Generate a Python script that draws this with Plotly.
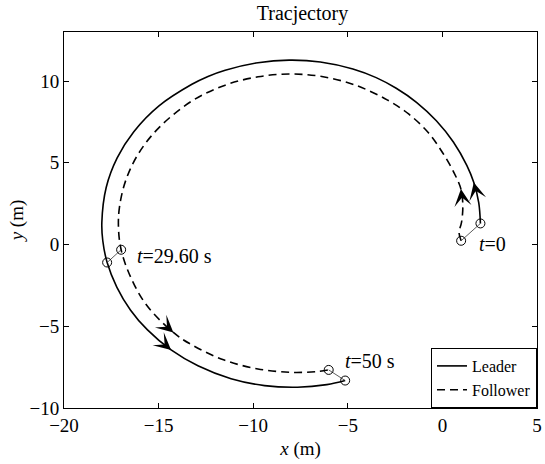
import plotly.graph_objects as go

# Leader trajectory (m), ordered in time from t=0 to t=50 s
leader_x = [2.01, 1.92, 1.66, 1.29, 0.58, -0.32, -1.37, -2.44, -3.50, -4.73, -6.45,
            -8.10, -9.75, -11.48, -12.39, -13.24, -14.98, -16.31, -17.19, -17.77,
            -18.00, -17.95, -17.72, -17.21, -16.49, -15.60, -14.34, -12.92, -11.17,
            -9.40, -7.66, -6.11, -5.14]
leader_y = [1.29, 2.57, 3.79, 4.84, 6.27, 7.57, 8.70, 9.56, 10.21, 10.74, 11.17,
            11.28, 11.12, 10.66, 10.28, 9.80, 8.48, 6.90, 5.30, 3.49,
            1.35, 0.23, -1.10, -2.60, -4.00, -5.21, -6.45, -7.42, -8.21,
            -8.63, -8.73, -8.57, -8.32]

# Follower trajectory (m)
follower_x = [0.99, 0.88, 1.01, 1.08, 0.98, 0.61, 0.02, -0.75, -1.77, -2.92, -4.67,
              -6.44, -8.10, -9.74, -11.48, -13.24, -14.98, -16.07, -16.74, -17.07,
              -17.12, -16.98, -16.55, -15.68, -14.22, -13.27, -11.53, -9.75, -8.01,
              -6.62, -6.01]
follower_y = [0.23, 0.74, 1.35, 2.37, 3.39, 4.40, 5.60, 6.85, 7.97, 8.85, 9.78,
              10.29, 10.43, 10.26, 9.75, 8.78, 7.15, 5.55, 3.91, 2.27,
              1.00, -0.32, -1.80, -3.64, -5.38, -6.12, -7.07, -7.61, -7.82,
              -7.77, -7.67]

# Snapshot instants: leader / follower positions and their labels
snap_labels = ["<i>t</i>=0", "<i>t</i>=29.60 s", "<i>t</i>=50 s"]
snap_leader_x = [2.01, -17.72, -5.14]
snap_leader_y = [1.29, -1.10, -8.32]
snap_follower_x = [0.99, -16.98, -6.01]
snap_follower_y = [0.23, -0.32, -7.67]
label_x = [1.85, -16.25, -5.25]
label_y = [0.05, -0.70, -7.15]

# Direction arrows along the paths: (tail x, tail y, tip x, tip y)
arrows = [
    (1.74, 3.40, 1.66, 3.79),
    (1.02, 3.00, 0.98, 3.39),
    (-14.62, -6.17, -14.34, -6.45),
    (-14.50, -5.09, -14.22, -5.38),
]

FONT = "Liberation Serif"

fig = go.Figure()

fig.add_trace(go.Scatter(
    x=leader_x, y=leader_y, mode="lines", name="Leader",
    line=dict(color="black", width=1.6, shape="spline", smoothing=1.0),
))
fig.add_trace(go.Scatter(
    x=follower_x, y=follower_y, mode="lines", name="Follower",
    line=dict(color="black", width=1.6, dash="8px,5px", shape="spline", smoothing=1.0),
))

# Thin links between leader and follower at each snapshot
for lx, ly, fx, fy in zip(snap_leader_x, snap_leader_y, snap_follower_x, snap_follower_y):
    fig.add_trace(go.Scatter(
        x=[lx, fx], y=[ly, fy], mode="lines", showlegend=False,
        line=dict(color="#333333", width=0.8), hoverinfo="skip",
    ))

fig.add_trace(go.Scatter(
    x=snap_leader_x + snap_follower_x, y=snap_leader_y + snap_follower_y,
    mode="markers", showlegend=False,
    marker=dict(symbol="circle-open", size=9, color="black", line=dict(width=1)),
))

for txt, tx, ty in zip(snap_labels, label_x, label_y):
    fig.add_annotation(x=tx, y=ty, text=txt, showarrow=False, xanchor="left",
                       yanchor="middle", font=dict(family=FONT, size=20, color="black"))

for ax_, ay_, x_, y_ in arrows:
    fig.add_annotation(x=x_, y=y_, ax=ax_, ay=ay_, axref="x", ayref="y", xref="x", yref="y",
                       text="", showarrow=True, arrowhead=3, arrowsize=1.9,
                       arrowwidth=1.5, arrowcolor="black")

axis_common = dict(
    showline=True, linecolor="black", linewidth=1, mirror="ticks",
    ticks="inside", ticklen=5, tickcolor="black", showgrid=False, zeroline=False,
    tickfont=dict(family=FONT, size=19, color="black"),
    ticklabeloverflow="allow",
)

fig.update_layout(
    width=545, height=464,
    margin=dict(l=64, r=3, t=32, b=56),
    paper_bgcolor="white", plot_bgcolor="white",
    title=dict(text="Tracjectory", x=0.555, y=0.972, xanchor="center", yanchor="middle",
               font=dict(family=FONT, size=20, color="black")),
    xaxis=dict(range=[-20, 5], tickvals=[-20, -15, -10, -5, 0, 5],
               title=dict(text="<i>x</i> (m)", standoff=6,
                          font=dict(family=FONT, size=19, color="black")),
               **axis_common),
    yaxis=dict(range=[-10, 13], tickvals=[-10, -5, 0, 5, 10],
               title=dict(text="<i>y</i> (m)", standoff=0,
                          font=dict(family=FONT, size=19, color="black")),
               **axis_common),
    legend=dict(x=1, y=0, xanchor="right", yanchor="bottom",
                bordercolor="black", borderwidth=1, bgcolor="white",
                font=dict(family=FONT, size=16, color="black"),
                tracegroupgap=0, itemwidth=30),
    showlegend=True,
)

fig.write_html("out.html")
